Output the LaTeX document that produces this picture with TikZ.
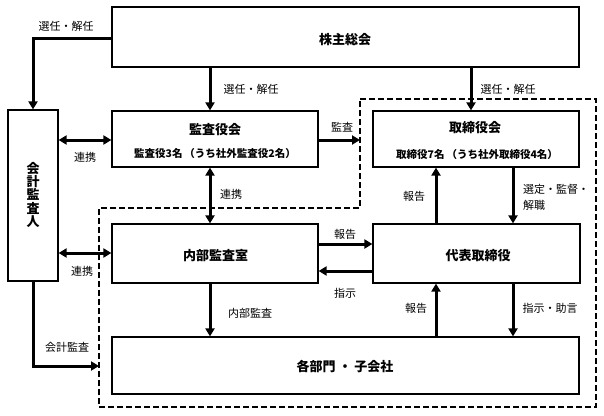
\documentclass[tikz,border=0pt]{standalone}
\usepackage{fontspec}
\newfontfamily\jp{Noto Sans CJK JP}
\usetikzlibrary{arrows.meta}
\tikzset{
  box/.style={draw, line width=1.2pt, inner sep=0pt, fill=white},
  arr/.style={line width=3pt, -{Triangle[length=8pt,width=9pt]}},
  darr/.style={line width=3pt, {Triangle[length=8pt,width=9pt]}-{Triangle[length=8pt,width=9pt]}},
  dashbound/.style={line width=2.4pt, dash pattern=on 6pt off 3pt},
  ttl/.style={font=\jp\bfseries\fontsize{13}{15}\selectfont, inner sep=0pt},
  sub/.style={font=\jp\bfseries\fontsize{10.5}{12}\selectfont, inner sep=0pt},
  lbl/.style={font=\jp\fontsize{11}{14}\selectfont, inner sep=0pt},
}
\begin{document}
\begin{tikzpicture}[x=1pt,y=-1pt]
\useasboundingbox (0,0) rectangle (604,415);
% dashed boundary
\coordinate (d1) at (360,99);
\coordinate (d2) at (596,99);
\coordinate (d3) at (596,407);
\coordinate (d4) at (99,407);
\coordinate (d5) at (99,208);
\coordinate (d6) at (360,208);
\draw[dashbound] (d1) -- (d2) -- (d3) -- (d4) -- (d5) -- (d6) -- cycle;
% boxes
\node[box, minimum width=467pt, minimum height=60pt] (kabu) at (345.5,37) {};
\node[box, minimum width=50pt, minimum height=171pt] (kaikei) at (33,195.5) {};
\node[box, minimum width=206pt, minimum height=56pt] (kansa) at (215,139) {};
\node[box, minimum width=206pt, minimum height=56pt] (tori) at (476,139) {};
\node[box, minimum width=206pt, minimum height=59pt] (naibu) at (215,253.5) {};
\node[box, minimum width=207pt, minimum height=59pt] (daihyo) at (476.5,253.5) {};
\node[box, minimum width=467pt, minimum height=57pt] (kakubu) at (345.5,365.5) {};
% texts in boxes
\node[ttl] (kabuT) at (345,40) {株主総会};
\node[ttl, align=center, font=\jp\bfseries\fontsize{13}{13.2}\selectfont] (kaikeiT) at (33,195) {会\\計\\監\\査\\人};
\node[ttl] (kansaT) at (215,130) {監査役会};
\node[sub] (kansaS) at (215,154) {監査役3名\hspace{2pt}（うち社外監査役2名）};
\node[ttl] (toriT) at (475,128) {取締役会};
\node[sub] (toriS) at (477,155) {取締役7名\hspace{2pt}（うち社外取締役4名）};
\node[ttl] (naibuT) at (215.5,256) {内部監査室};
\node[ttl] (daihyoT) at (478,256) {代表取締役};
\node[ttl] (kakubuT) at (345,367) {各部門 ・ 子会社};
% helper coordinates
\coordinate (x33) at (33,0);
\coordinate (x210) at (210,0);
\coordinate (x436) at (436,0);
\coordinate (x471) at (471,0);
\coordinate (x513) at (513,0);
\coordinate (y38) at (0,38);
\coordinate (y140) at (0,140);
\coordinate (y244) at (0,244);
\coordinate (y253) at (0,253);
\coordinate (y271) at (0,271);
\coordinate (y366) at (0,366);
\coordinate (dA) at (360,140);
\coordinate (dB) at (99,366);
% connectors
\draw[arr] (kabu.west |- y38) -| (kaikei.north);
\draw[arr] (x210 |- kabu.south) -- (x210 |- kansa.north);
\draw[arr] (x471 |- kabu.south) -- (x471 |- tori.north);
\draw[darr] (kaikei.east |- y140) -- (kansa.west |- y140);
\draw[arr] (kansa.east |- y140) -- (dA);
\draw[darr] (x210 |- naibu.north) -- (x210 |- kansa.south);
\draw[darr] (kaikei.east |- y253) -- (naibu.west |- y253);
\draw[arr] (x33 |- kaikei.south) |- (dB);
\draw[arr] (x210 |- naibu.south) -- (x210 |- kakubu.north);
\draw[arr] (naibu.east |- y244) -- (daihyo.west |- y244);
\draw[arr] (daihyo.west |- y271) -- (naibu.east |- y271);
\draw[arr] (x436 |- daihyo.north) -- (x436 |- tori.south);
\draw[arr] (x513 |- tori.south) -- (x513 |- daihyo.north);
\draw[arr] (x436 |- kakubu.north) -- (x436 |- daihyo.south);
\draw[arr] (x513 |- daihyo.south) -- (x513 |- kakubu.north);
% labels
\node[lbl] (l1) at (66,26) {選任・解任};
\node[lbl] (l2) at (251,89) {選任・解任};
\node[lbl] (l3) at (508,89) {選任・解任};
\node[lbl] (l4) at (85,157) {連携};
\node[lbl] (l5) at (342,127) {監査};
\node[lbl] (l6) at (231,194) {連携};
\node[lbl] (l7) at (414,196) {報告};
\node[lbl, anchor=west] (l8) at (523,189) {選定・監督・};
\node[lbl, anchor=west] (l9) at (523,205) {解職};
\node[lbl] (l10) at (82,271) {連携};
\node[lbl] (l11) at (67,347) {会計監査};
\node[lbl] (l12) at (250,313) {内部監査};
\node[lbl] (l13) at (345,234) {報告};
\node[lbl] (l14) at (345,293) {指示};
\node[lbl] (l15) at (416,308) {報告};
\node[lbl] (l16) at (550,308) {指示・助言};
\end{tikzpicture}
\end{document}
